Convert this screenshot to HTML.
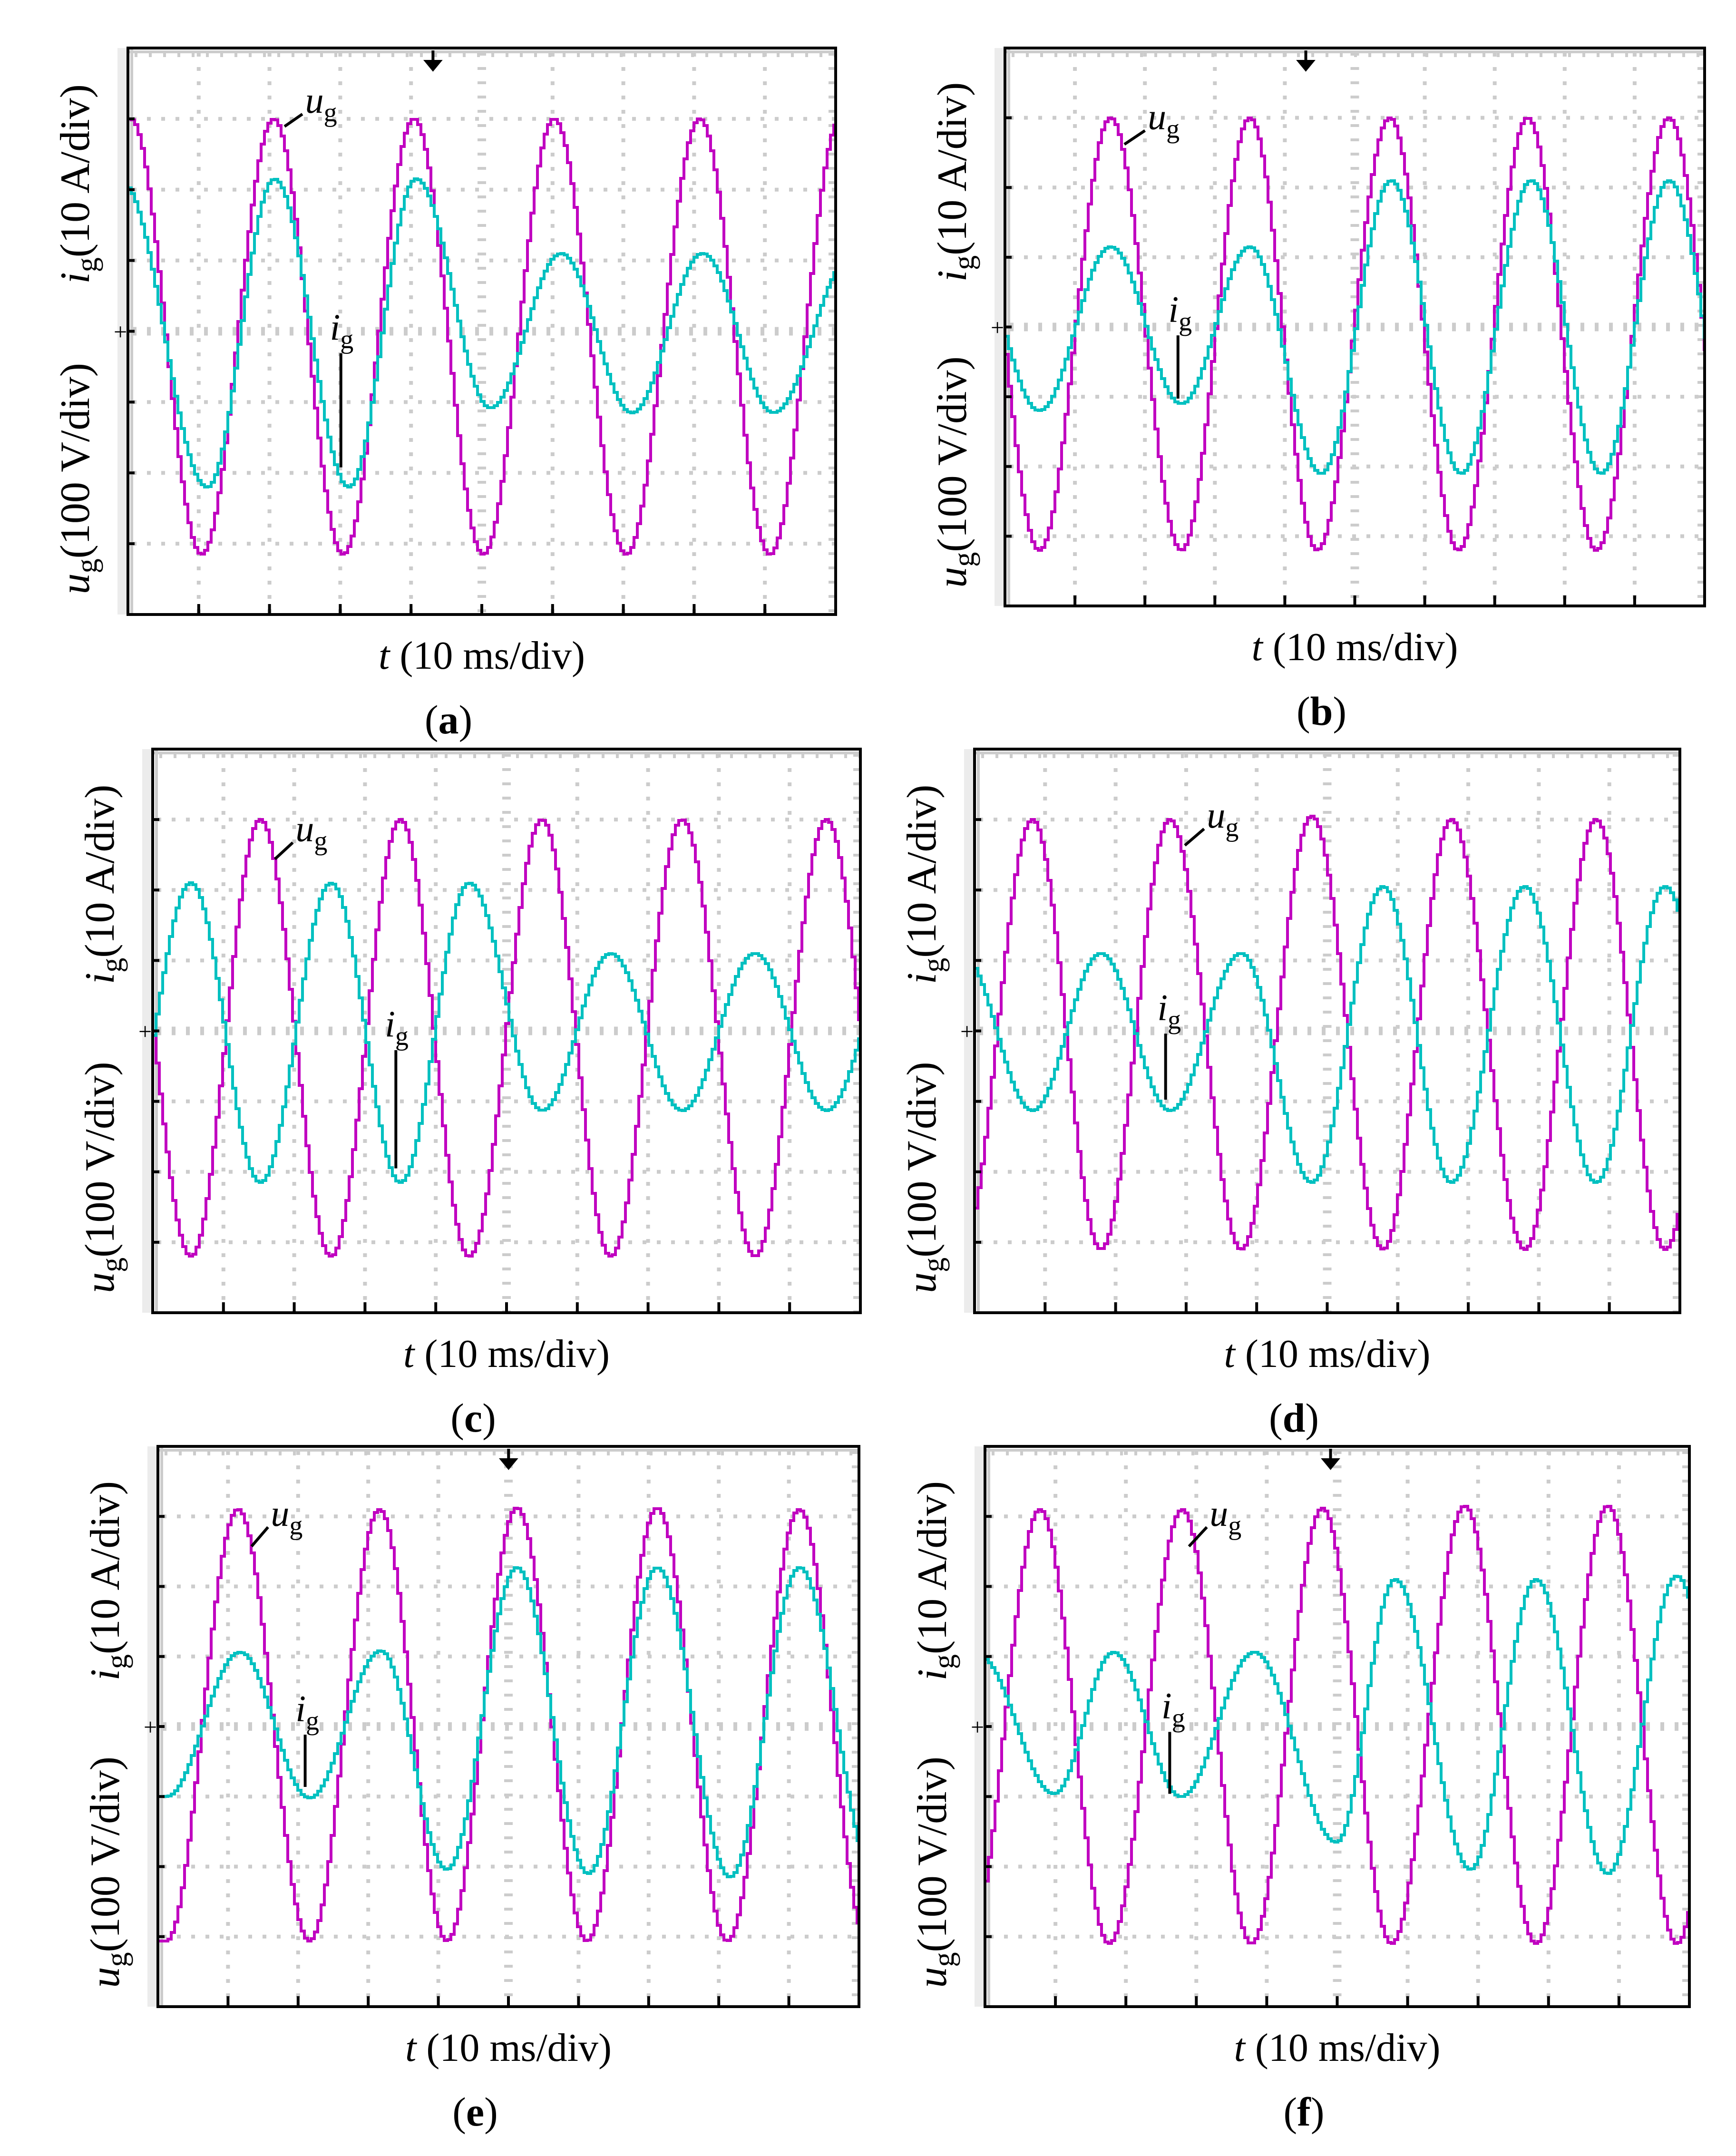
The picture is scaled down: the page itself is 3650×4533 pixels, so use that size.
<!DOCTYPE html>
<html><head><meta charset="utf-8">
<style>
html,body{margin:0;padding:0;background:#fff;}
svg{display:block;}
text{font-family:"Liberation Serif",serif;fill:#000;}
</style></head>
<body>
<svg id="fig" width="3650" height="4533" viewBox="0 0 3650 4533" xmlns="http://www.w3.org/2000/svg"></svg>
<script>
// ---- data: extrema times (divisions, 10 ms/div) and values (divisions) ----
// Panel a
const aUgT=[0.02,1.02,2.04,3.02,4.02,5.0,6.0,7.02,8.06,9.05,10.05];
const aUgV=[3.0,-3.15,3.0,-3.15,3.0,-3.15,3.0,-3.15,3.0,-3.15,3.0];
const aIgT=[-0.1,1.1,2.05,3.1,4.05,5.1,6.1,7.1,8.1,9.1,10.2];
const aIgV=[2.1,-2.2,2.15,-2.2,2.15,-1.08,1.1,-1.15,1.1,-1.15,1.05];
// Panel b
const bUgT=[-0.53,0.47,1.49,2.5,3.48,4.44,5.48,6.46,7.45,8.43,9.47,10.47];
const bUgV=[3.0,-3.2,3.0,-3.2,3.0,-3.2,3.0,-3.2,3.0,-3.2,3.0,-3.2];
const bIgT=[-0.53,0.47,1.49,2.5,3.48,4.5,5.5,6.5,7.5,8.5,9.47,10.47];
const bIgV=[1.15,-1.2,1.15,-1.1,1.15,-2.1,2.1,-2.1,2.1,-2.1,2.1,-2.1];
// Panel c
const cUgT=[-0.5,0.52,1.5,2.5,3.48,4.45,5.48,6.45,7.46,8.49,9.5,10.5];
const cUgV=[3.0,-3.2,3.0,-3.2,3.0,-3.2,3.0,-3.2,3.0,-3.2,3.0,-3.2];
const cIgT=[-0.5,0.52,1.5,2.5,3.48,4.45,5.48,6.45,7.46,8.49,9.5,10.5];
const cIgV=[-2.1,2.1,-2.15,2.1,-2.15,2.1,-1.13,1.1,-1.13,1.1,-1.13,1.1];
// Panel d
const dUgT=[-0.2,0.8,1.77,2.75,3.76,4.76,5.77,6.74,7.78,8.79,9.77,10.8];
const dUgV=[-3.1,3.0,-3.1,3.0,-3.1,3.05,-3.1,3.0,-3.1,3.0,-3.1,3.0];
const dIgT=[-0.2,0.8,1.77,2.75,3.76,4.76,5.77,6.74,7.78,8.79,9.77,10.8];
const dIgV=[1.1,-1.13,1.1,-1.13,1.1,-2.15,2.05,-2.15,2.05,-2.15,2.05,-2.1];
// Panel e
const eUgT=[0.1,1.12,2.14,3.14,4.1,5.1,6.1,7.1,8.1,9.13,10.1];
const eUgV=[-3.06,3.1,-3.06,3.1,-3.06,3.12,-3.06,3.12,-3.06,3.1,-3.06];
const eIgT=[0.1,1.15,2.14,3.16,4.1,5.1,6.12,7.1,8.14,9.13,10.2];
const eIgV=[-1.0,1.06,-1.02,1.08,-2.04,2.27,-2.1,2.27,-2.15,2.27,-2.1];
// Panel f
const fUgT=[-0.25,0.76,1.74,2.78,3.76,4.77,5.75,6.79,7.8,8.82,9.8,10.8];
const fUgV=[-3.1,3.1,-3.1,3.1,-3.1,3.12,-3.1,3.15,-3.1,3.15,-3.1,3.1];
const fIgT=[-0.1,0.96,1.8,2.76,3.8,4.97,5.8,6.87,7.8,8.82,9.8,10.8];
const fIgV=[1.0,-0.96,1.06,-1.0,1.06,-1.65,2.1,-2.04,2.1,-2.1,2.15,-2.1];

const panelLetters=["a","b","c","d","e","f"];
const NS="http://www.w3.org/2000/svg";
const svg=document.getElementById("fig");
function mk(tag,attrs,parent){const e=document.createElementNS(NS,tag);for(const k in attrs)e.setAttribute(k,attrs[k]);(parent||svg).appendChild(e);return e;}

const panels=[
 {x:269,y:101,w:1488,h:1191,ug:[aUgT,aUgV],ig:[aIgT,aIgV],arrow:315*2.89,ugL:[207,92,222,80],igL:[248,340,240,245]},
 {x:2113,y:101,w:1471,h:1173,ug:[bUgT,bUgV],ig:[bIgT,bIgV],arrow:950*2.89,ugL:[818,105,835,92],igL:[857,290,850,232]},
 {x:321,y:1575,w:1488,h:1185,ug:[cUgT,cUgV],ig:[cIgT,cIgV],arrow:null,ugL:[200,625,215,610],igL:[288,850,280,752]},
 {x:2049,y:1575,w:1483,h:1185,ug:[dUgT,dUgV],ig:[dIgT,dIgV],arrow:null,ugL:[862,615,878,600],igL:[848,800,842,740]},
 {x:332,y:3041,w:1474,h:1178,ug:[eUgT,eUgV],ig:[eIgT,eIgV],arrow:370*2.89,ugL:[183,1125,197,1108],igL:[222,1300,215,1250]},
 {x:2071,y:3041,w:1481,h:1178,ug:[fUgT,fUgV],ig:[fIgT,fIgV],arrow:968*2.89,ugL:[865,1125,880,1108],igL:[851,1305,845,1248]}
];
const S=2.89;

function valueAt(T,V,t){
  if(t<=T[0])return V[0];
  for(let i=0;i<T.length-1;i++){
    if(t>=T[i]&&t<=T[i+1]){const u=(t-T[i])/(T[i+1]-T[i]);return V[i]+(V[i+1]-V[i])*(1-Math.cos(Math.PI*u))/2;}
  }
  return V[V.length-1];
}

panels.forEach((p,pi)=>{
  const g=mk("g",{});
  
  
  const dx=p.w/10, dy=p.h/8, yc=p.y+p.h/2;
  const xs=t=>p.x+t*dx, ys=v=>yc-v*dy;
  const strip=mk("rect",{x:p.x-22,y:p.y,width:20,height:p.h,fill:"#ececec"},g);
  
  
  const grid=mk("g",{stroke:"#cccccc"},g);
  
  
  for(let i=1;i<10;i++){
    if(i===5)continue;
    mk("line",{x1:xs(i),y1:p.y+10,x2:xs(i),y2:p.y+p.h,"stroke-width":8,"stroke-dasharray":"8 22"},grid);
  }
  for(let j=1;j<8;j++){
    if(j===4)continue;
    mk("line",{x1:p.x+10,y1:p.y+j*dy,x2:p.x+p.w,y2:p.y+j*dy,"stroke-width":8,"stroke-dasharray":"8 22"},grid);
  }
  mk("line",{x1:xs(5),y1:p.y+10,x2:xs(5),y2:p.y+p.h,"stroke-width":18,"stroke-dasharray":"6 24"},grid);
  mk("line",{x1:p.x+10,y1:yc,x2:p.x+p.w,y2:yc,"stroke-width":18,"stroke-dasharray":"8 22"},grid);
  mk("line",{x1:p.x,y1:p.y+8,x2:p.x+p.w,y2:p.y+8,"stroke-width":6},grid);
  mk("line",{x1:p.x+14,y1:p.y+12,x2:p.x+p.w,y2:p.y+12,"stroke-width":14,"stroke-dasharray":"6 24"},grid);
  mk("line",{x1:p.x+8,y1:p.y,x2:p.x+8,y2:p.y+p.h,"stroke-width":6},grid);
  mk("line",{x1:p.x+p.w-8,y1:p.y+10,x2:p.x+p.w-8,y2:p.y+p.h,"stroke-width":14,"stroke-dasharray":"6 24"},grid);
  const clip=mk("clipPath",{id:"clip"+pi},g);
  mk("rect",{x:p.x,y:p.y,width:p.w,height:p.h},clip);
  const wg=mk("g",{"clip-path":"url(#clip"+pi+")"},g);
  function trace(T,V,color,name){
    let d="",prev=null;const step=7;
    for(let px=0;px<=p.w;px+=step){
      const t=px/dx; const y=Math.round(ys(valueAt(T,V,t)));
      const x=p.x+px;
      if(prev===null)d+="M"+x+" "+y;else d+=" H"+x+" V"+y;
      prev=y;
    }
    d+=" H"+(p.x+p.w);
    const path=mk("path",{d:d,fill:"none",stroke:color,"stroke-width":6,"stroke-linejoin":"miter"},wg);
    
    
  }
  trace(p.ug[0],p.ug[1],"#c000c0","ug-trace");
  trace(p.ig[0],p.ig[1],"#00c0c0","ig-trace");
  const border=mk("rect",{x:p.x,y:p.y,width:p.w,height:p.h,fill:"none",stroke:"#000","stroke-width":6},g);
  
  
  for(let i=1;i<10;i++){mk("line",{x1:xs(i),y1:p.y+p.h,x2:xs(i),y2:p.y+p.h-22,stroke:"#000","stroke-width":6},g);}
  for(let j=1;j<8;j++){mk("line",{x1:p.x,y1:p.y+j*dy,x2:p.x+14,y2:p.y+j*dy,stroke:"#000","stroke-width":6},g);}
  const gm=mk("text",{x:p.x-30,y:yc+18,"font-size":50,fill:"#c000c0"},g);gm.textContent="+";
  
  
  if(p.arrow){
    const ar=mk("path",{d:`M${p.arrow} ${p.y+5} V${p.y+40} M${p.arrow-14} ${p.y+28} L${p.arrow+14} ${p.y+28} L${p.arrow} ${p.y+45} Z`,stroke:"#000","stroke-width":6,fill:"#000"},g);
    
    
  }
  const [ux1,uy1,utx,uty]=p.ugL;
  mk("line",{x1:ux1*S,y1:uy1*S,x2:(utx-2)*S,y2:(uty+3)*S,stroke:"#000","stroke-width":6},g);
  const ut=mk("text",{x:utx*S,y:(uty+2)*S,"font-size":78,"font-style":"italic"},g);
  ut.innerHTML='u<tspan font-style="normal" font-size="56" dy="18">g</tspan>';
  
  
  const [ix1,iy1,itx,ity]=p.igL;
  mk("line",{x1:ix1*S,y1:iy1*S,x2:ix1*S,y2:(ity+12)*S,stroke:"#000","stroke-width":6},g);
  const it=mk("text",{x:itx*S,y:(ity+2)*S,"font-size":78,"font-style":"italic"},g);
  it.innerHTML='i<tspan font-style="normal" font-size="56" dy="18">g</tspan>';
  
  
  const lx=p.x-82;
  const yt1=mk("text",{x:0,y:0,"font-size":88,"text-anchor":"middle",transform:`translate(${lx},${p.y+p.h*0.24}) rotate(-90)`},g);
  yt1.innerHTML='<tspan font-style="italic">i</tspan><tspan font-size="62" dy="16">g</tspan><tspan dy="-16">(10 A/div)</tspan>';
  
  
  const yt2=mk("text",{x:0,y:0,"font-size":88,"text-anchor":"middle",transform:`translate(${lx},${p.y+p.h*0.76}) rotate(-90)`},g);
  yt2.innerHTML='<tspan font-style="italic">u</tspan><tspan font-size="62" dy="16">g</tspan><tspan dy="-16">(100 V/div)</tspan>';
  
  
  const xt=mk("text",{x:p.x+p.w/2,y:p.y+p.h+114,"font-size":84,"text-anchor":"middle"},g);
  xt.innerHTML='<tspan font-style="italic">t</tspan> (10 ms/div)';
  
  
  const cap=mk("text",{x:p.x+p.w/2-70,y:p.y+p.h+250,"font-size":86,"text-anchor":"middle"},g);
  cap.innerHTML='(<tspan font-weight="bold">'+panelLetters[pi]+'</tspan>)';
  
  
});
</script>
</body></html>
